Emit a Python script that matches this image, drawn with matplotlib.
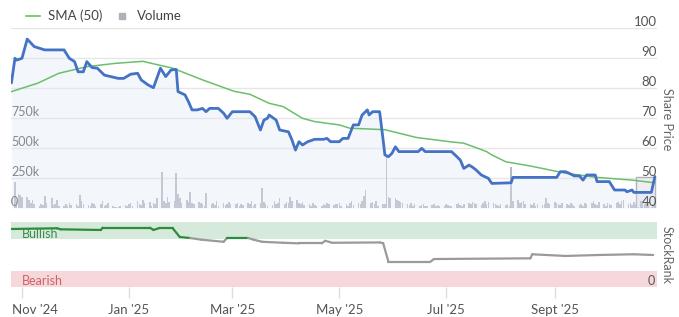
import matplotlib
matplotlib.use('Agg')
import matplotlib.pyplot as plt
import matplotlib.dates as mdates
import matplotlib.transforms as mtransforms
from matplotlib.collections import LineCollection
from matplotlib.lines import Line2D
import numpy as np
import pandas as pd

# ---------------- data ----------------
price_dates = ['2024-10-26', '2024-10-28', '2024-10-29', '2024-11-01', '2024-11-04', '2024-11-08',
               '2024-11-14', '2024-11-25', '2024-11-28', '2024-12-01', '2024-12-03', '2024-12-06',
               '2024-12-08', '2024-12-11', '2024-12-14', '2024-12-18', '2024-12-26', '2024-12-29',
               '2025-01-02', '2025-01-06', '2025-01-08', '2025-01-12', '2025-01-15', '2025-01-19',
               '2025-01-22', '2025-01-25', '2025-01-28', '2025-01-29', '2025-02-02', '2025-02-04',
               '2025-02-06', '2025-02-09', '2025-02-12', '2025-02-14', '2025-02-16', '2025-02-21',
               '2025-02-24', '2025-02-26', '2025-03-01', '2025-03-11', '2025-03-14', '2025-03-17',
               '2025-03-19', '2025-03-21', '2025-03-22', '2025-03-26', '2025-03-28', '2025-04-02',
               '2025-04-04', '2025-04-06', '2025-04-08', '2025-04-10', '2025-04-13', '2025-04-17',
               '2025-04-22', '2025-04-24', '2025-04-26', '2025-05-01', '2025-05-03', '2025-05-06',
               '2025-05-09', '2025-05-12', '2025-05-14', '2025-05-17', '2025-05-18', '2025-05-20',
               '2025-05-24', '2025-05-26', '2025-05-27', '2025-05-29', '2025-05-31', '2025-06-02',
               '2025-06-04', '2025-06-15', '2025-06-17', '2025-06-19', '2025-07-04', '2025-07-06',
               '2025-07-09', '2025-07-11', '2025-07-14', '2025-07-16', '2025-07-18', '2025-07-21',
               '2025-07-25', '2025-07-27', '2025-08-07', '2025-08-08', '2025-09-02', '2025-09-04',
               '2025-09-07', '2025-09-09', '2025-09-12', '2025-09-15', '2025-09-17', '2025-09-19',
               '2025-09-24', '2025-09-25', '2025-10-02', '2025-10-05', '2025-10-11', '2025-10-12',
               '2025-10-15', '2025-10-16', '2025-10-26', '2025-10-28']
price_values = [81.7, 89.9, 89.3, 89.9, 96.3, 93.8,
                92.7, 92.7, 89.9, 88.8, 85.4, 85.4,
                88.8, 86.8, 86.6, 84.3, 83.2, 83.2,
                84.6, 84.9, 82.7, 81.0, 80.1, 86.6,
                83.8, 86.0, 86.2, 78.8, 77.7, 75.4,
                72.7, 72.7, 73.2, 72.1, 73.2, 73.2,
                71.6, 69.9, 72.1, 72.1, 70.4, 66.0,
                69.3, 69.9, 71.0, 69.3, 66.0, 65.4,
                62.7, 59.3, 62.1, 61.0, 62.1, 62.9,
                62.9, 63.2, 62.1, 62.1, 63.2, 63.2,
                67.7, 67.7, 71.0, 72.7, 71.0, 72.1,
                72.1, 62.7, 57.7, 57.1, 58.2, 60.4,
                58.8, 58.8, 59.9, 58.8, 58.8, 57.7,
                56.0, 53.2, 54.3, 53.6, 52.7, 51.0,
                49.9, 48.2, 48.4, 50.2, 50.2, 52.1,
                52.1, 51.6, 50.7, 50.7, 49.3, 51.0,
                51.0, 48.8, 48.8, 46.0, 46.0, 45.4,
                46.0, 45.2, 45.2, 50.5]

sma_dates = ['2024-10-26', '2024-11-10', '2024-11-22', '2024-12-08', '2024-12-24', '2025-01-09',
             '2025-01-14', '2025-01-26', '2025-02-12', '2025-03-02', '2025-03-11', '2025-03-22',
             '2025-03-30', '2025-04-10', '2025-04-17', '2025-05-01', '2025-05-07', '2025-05-27',
             '2025-06-14', '2025-07-03', '2025-07-11', '2025-07-19', '2025-07-24', '2025-07-27',
             '2025-08-04', '2025-08-18', '2025-09-07', '2025-09-25', '2025-10-15', '2025-10-28']
sma_values = [78.8, 81.6, 84.9, 87.1, 88.2, 88.9,
              88.2, 86.6, 82.7, 78.9, 77.9, 74.9,
              73.8, 69.9, 68.8, 67.7, 66.6, 66.1,
              63.5, 62.1, 61.6, 59.9, 58.8, 57.7,
              55.4, 54.0, 51.6, 50.2, 49.3, 48.4]

rank_dates = ['2024-10-26', '2024-11-21', '2024-11-23', '2024-12-16', '2024-12-17', '2025-01-13',
              '2025-01-15', '2025-01-18', '2025-01-26', '2025-01-30', '2025-02-05', '2025-02-11',
              '2025-02-24', '2025-02-26', '2025-03-10', '2025-03-13', '2025-03-18', '2025-03-30',
              '2025-04-08', '2025-04-21', '2025-04-23', '2025-04-27', '2025-05-24', '2025-05-26',
              '2025-05-29', '2025-06-22', '2025-06-24', '2025-08-18', '2025-08-19', '2025-09-07',
              '2025-09-26', '2025-10-16', '2025-10-27']
rank_values = [89.7, 90.8, 89.2, 88.2, 91.7, 91.7,
               88.2, 90.8, 90.8, 77.4, 75.8, 73.4,
               70.0, 75.8, 75.8, 73.4, 70.0, 68.5,
               67.6, 67.6, 71.6, 68.5, 69.0, 68.0,
               39.5, 39.5, 43.5, 44.6, 50.8, 48.2,
               49.7, 50.8, 49.7]

volume_start = '2024-10-28'
volume_k = [220, 60, 117, 110, 95,
            94, 70, 40, 67, 30,
            20, 30, 25, 103, 40,
            83, 25, 30, 67, 20,
            15, 30, 20, 40, 25,
            30, 20, 108, 60, 30,
            25, 20, 40, 35, 20,
            30, 60, 20, 25, 40,
            15, 10, 5, 10, 20,
            25, 20, 30, 45, 20,
            60, 30, 25, 70, 40,
            50, 20, 45, 30, 80,
            302, 60, 40, 94, 50,
            60, 289, 120, 80, 40,
            70, 50, 136, 40, 30,
            50, 40, 30, 20, 122,
            30, 40, 25, 60, 20,
            40, 25, 30, 50, 35,
            30, 45, 20, 30, 25,
            40, 30, 60, 20, 30,
            40, 164, 50, 30, 20,
            25, 60, 30, 40, 80,
            30, 50, 40, 94, 60,
            70, 40, 30, 50, 25,
            30, 20, 40, 25, 20,
            20, 30, 25, 40, 30,
            25, 35, 30, 40, 20,
            30, 20, 40, 60, 25,
            40, 30, 60, 100, 150,
            40, 50, 30, 60, 20,
            30, 30, 440, 90, 80,
            83, 70, 60, 50, 40,
            30, 25, 40, 20, 30,
            20, 25, 30, 20, 15,
            25, 30, 20, 25, 20,
            20, 30, 25, 15, 20,
            30, 40, 25, 20, 30,
            40, 30, 50, 40, 30,
            25, 40, 60, 30, 50,
            40, 30, 25, 20, 30,
            25, 30, 20, 344, 60,
            70, 40, 50, 60, 30,
            30, 25, 40, 20, 30,
            25, 30, 80, 40, 30,
            50, 40, 30, 25, 40,
            30, 25, 40, 30, 20,
            25, 30, 20, 40, 30,
            40, 61, 30, 25, 50,
            30, 20, 40, 30, 25,
            40, 50, 30, 60, 70,
            30, 40, 25, 50, 30,
            60, 40, 30, 50, 40,
            30, 60]

highlight_start = '2025-10-17'
highlight_end = '2025-10-28'
highlight_volume_k = 258

x_range = ['2024-10-25 18:00', '2025-10-29 05:00']
x_tick_dates = ['2024-11-01', '2025-01-01', '2025-03-01', '2025-05-01', '2025-07-01', '2025-09-01']
x_tick_labels = ["Nov '24", "Jan '25", "Mar '25", "May '25", "Jul '25", "Sept '25"]
price_ticks = [40, 50, 60, 70, 80, 90, 100]
volume_ticks_k = [0, 250, 500, 750]
volume_tick_labels = ['0', '250k', '500k', '750k']
bull_band = (75, 100)
bear_band = (0, 25)

# ---------------- style ----------------
plt.rcParams['font.family'] = ['Lato', 'DejaVu Sans']
W, H = 679, 317
fig = plt.figure(figsize=(W / 100, H / 100), dpi=100)
fig.patch.set_facecolor('white')

left = 11 / W
width = (657 - 11) / W
main_bottom = (H - 208) / H
main_height = (208 - 28) / H
rank_bottom = (H - 287.3) / H
rank_height = (287.3 - 222.3) / H

tick_color = '#555555'
grid_color = '#e6e6e6'
fs = 9

x0, x1 = [mdates.date2num(pd.Timestamp(d)) for d in x_range]

# volume axis (below)
ax_v = fig.add_axes([left, main_bottom, width, main_height])
vdates = pd.bdate_range(volume_start, periods=len(volume_k))
ax_v.bar(vdates, np.array(volume_k) * 1000, width=0.9, color='#b8b8c0', zorder=2)
hs, he = pd.Timestamp(highlight_start), pd.Timestamp(highlight_end)
ax_v.bar(hs, highlight_volume_k * 1000, width=(he - hs).days, align='edge',
         facecolor='#eeeef2', edgecolor='#b0b0b8', linewidth=1.0, zorder=1.5)
ax_v.set_ylim(0, 1_500_000)
ax_v.set_xlim(x0, x1)
for v in [250, 500, 750, 1000, 1250, 1500]:
    ax_v.axhline(v * 1000, color=grid_color, lw=1.0, zorder=0)
for v, lab in zip(volume_ticks_k, volume_tick_labels):
    ax_v.text(0.0, v * 1000, lab, transform=ax_v.get_yaxis_transform(),
              ha='left', va='bottom', fontsize=fs, color=tick_color, zorder=5)
ax_v.set_xticks([])
ax_v.set_yticks([])
for s in ax_v.spines.values():
    s.set_visible(False)

# price axis (above)
ax_p = ax_v.twinx()
pd_dates = pd.to_datetime(price_dates)
ax_p.fill_between(pd_dates, price_values, 40, color='#dfe7f5', alpha=0.35, lw=0, zorder=1)
ax_p.plot(pd.to_datetime(sma_dates), sma_values, color='#6cbf6a', lw=1.1, zorder=3)
ax_p.plot(pd_dates, price_values, color='#4472c4', lw=2.0, zorder=4,
          solid_joinstyle='round', solid_capstyle='round')
ax_p.set_ylim(40, 100)
ax_p.set_xlim(x0, x1)
ax_p.set_yticks([])
for v in price_ticks:
    ax_p.text(1.0, v, str(v), transform=ax_p.get_yaxis_transform(),
              ha='right', va='bottom', fontsize=fs + 0.5, color=tick_color, zorder=5)
for s in ax_p.spines.values():
    s.set_visible(False)

# stock rank panel
ax_r = fig.add_axes([left, rank_bottom, width, rank_height])
ax_r.axhspan(*bull_band, color='#d5eadb', lw=0, zorder=0)
ax_r.axhspan(*bear_band, color='#f6d7da', lw=0, zorder=0)
rx = mdates.date2num(pd.to_datetime(rank_dates))
ry = np.array(rank_values)
pts = np.column_stack([rx, ry])
segs = np.stack([pts[:-1], pts[1:]], axis=1)
cols = ['#2e8b3e' if (a >= bull_band[0] and b >= bull_band[0]) else '#9a9a9a'
        for a, b in zip(ry[:-1], ry[1:])]
ax_r.add_collection(LineCollection(segs, colors=cols, linewidths=1.6, zorder=3,
                                   capstyle='round', joinstyle='round'))
ax_r.set_ylim(0, 100)
ax_r.set_xlim(x0, x1)
ax_r.text(0.017, 82, 'Bullish', transform=ax_r.get_yaxis_transform(), ha='left', va='center',
          fontsize=fs, color='#3c8c4c', zorder=2)
ax_r.text(0.017, 10, 'Bearish', transform=ax_r.get_yaxis_transform(), ha='left', va='center',
          fontsize=fs, color='#d0606a', zorder=2)
ax_r.text(0.997, 10, '0', transform=ax_r.get_yaxis_transform(), ha='right', va='center',
          fontsize=fs, color=tick_color, zorder=2)
ax_r.set_yticks([])
ax_r.set_xticks(mdates.date2num(pd.to_datetime(x_tick_dates)))
ax_r.set_xticklabels(x_tick_labels)
ax_r.tick_params(axis='x', length=8, width=1, color='#dddddd', labelcolor=tick_color,
                 labelsize=fs + 0.5, pad=4)
# first label is kept inside the plot edge
first = ax_r.get_xticklabels()[0]
first.set_horizontalalignment('left')
first.set_transform(first.get_transform() +
                    mtransforms.ScaledTranslation(-10 / 100, 0, fig.dpi_scale_trans))
for s in ax_r.spines.values():
    s.set_visible(False)

# side titles
fig.text(667 / W, 1 - 119 / H, 'Share Price', rotation=270, ha='center', va='center',
         fontsize=fs, color='#666666')
fig.text(667 / W, 1 - 255 / H, 'StockRank', rotation=270, ha='center', va='center',
         fontsize=fs, color='#666666')

# legend
handles = [Line2D([], [], color='#6cbf6a', lw=1.2),
           Line2D([], [], color='#b0b0b8', marker='s', ls='none', markersize=4)]
fig.legend(handles, ['SMA (50)', 'Volume'], loc='center left',
           bbox_to_anchor=(14 / W, 1 - 16 / H), ncol=2, frameon=False,
           fontsize=fs + 0.5, handlelength=1.1, handletextpad=0.6, columnspacing=0.9,
           labelcolor='#444444')

fig.savefig('out.png', dpi=100, facecolor='white')
